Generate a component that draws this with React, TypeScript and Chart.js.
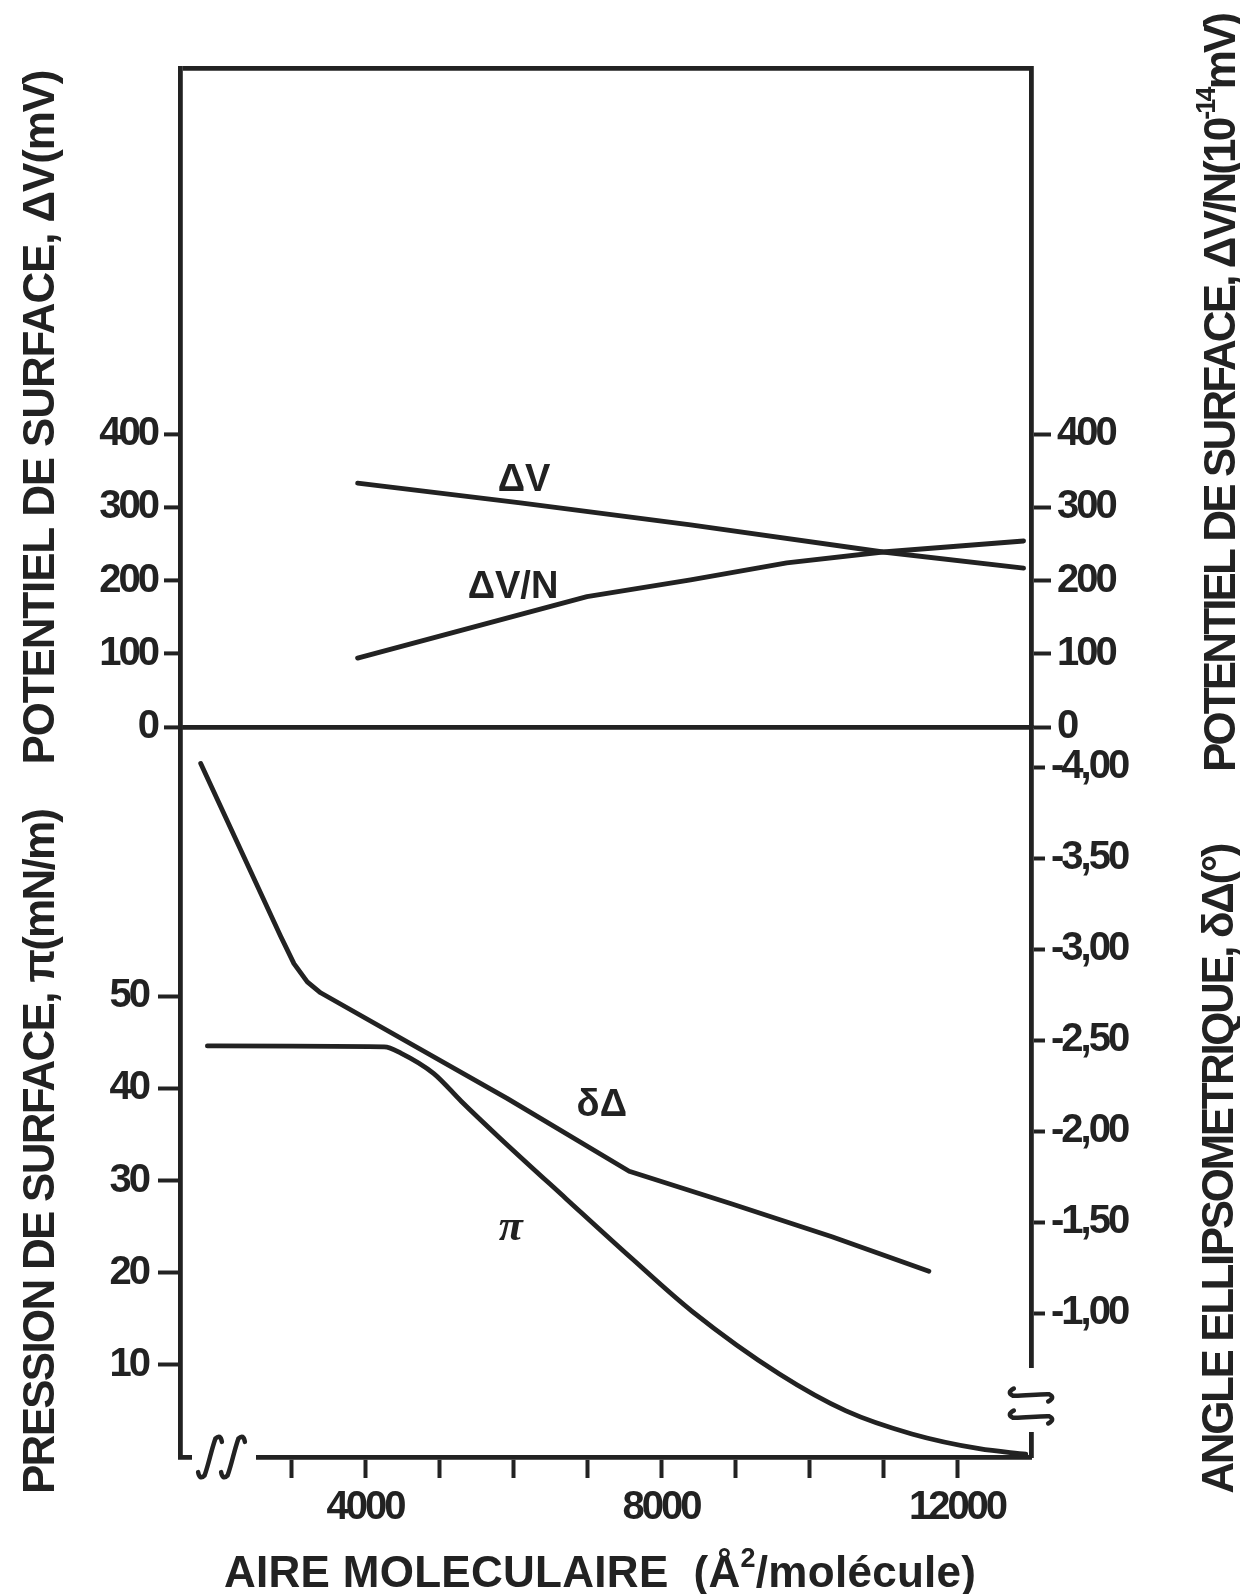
import { useEffect, useRef } from 'react';
import { Chart, registerables } from 'chart.js';

Chart.register(...registerables);

// ---- data ----
const areaDV = [3900, 6100, 8400, 11000, 12900];
const dV = [333, 306, 276, 239, 217];

const areaDVN = [3900, 7000, 8400, 9700, 11000, 12900];
const dVN = [94, 178, 201, 224, 239, 254];

const areaDelta = [1780, 2860, 3040, 3220, 3400, 5920, 7570, 8960, 10310, 11620];
const deltaDeg = [-4.02, -3.07, -2.92, -2.82, -2.76, -2.18, -1.78, -1.6, -1.42, -1.23];

const areaPi = [1870, 4260, 4490, 4930, 5300, 5810, 6720, 7610, 8420, 9600, 10500, 11390, 12300, 12930];
const piVals = [44.6, 44.5, 43.8, 41.6, 38.6, 34.7, 28.0, 21.5, 15.8, 9.0, 5.0, 2.5, 0.9, 0.3];

const xTicks = [3000, 4000, 5000, 6000, 7000, 8000, 9000, 10000, 11000, 12000];
const xLabelTicks = [4000, 8000, 12000];
const dvTicks = [0, 100, 200, 300, 400];
const piTicks = [10, 20, 30, 40, 50];
const deltaTicks = [-4, -3.5, -3, -2.5, -2, -1.5, -1];

const curveLabels = [
  { text: 'ΔV', x: 6150, y: 337, axis: 'yTop', italic: false },
  { text: 'ΔV/N', x: 6000, y: 190, axis: 'yTop', italic: false },
  { text: 'δΔ', x: 7200, y: -2.14, axis: 'yBotR', italic: false },
  { text: 'π', x: 5970, y: 24.8, axis: 'yBot', italic: true },
];

const titleLeftTop = [{ t: 'POTENTIEL DE SURFACE, ΔV(mV)' }];
const titleLeftBottom = [{ t: 'PRESSION DE SURFACE, π(mN/m)' }];
const titleRightTop = [{ t: 'POTENTIEL DE SURFACE, ΔV/N(10' }, { t: '-14', sup: true }, { t: 'mV)' }];
const titleRightBottom = [{ t: 'ANGLE ELLIPSOMETRIQUE, δΔ(°)' }];
const titleX = [{ t: 'AIRE MOLECULAIRE  (Å' }, { t: '2', sup: true }, { t: '/molécule)' }];

const FONT = "'Liberation Sans', Arial, sans-serif";
const INK = '#222222';
const CLEAR = 'rgba(0,0,0,0)';

type Run = { t: string; sup?: boolean };

function drawRuns(
  ctx: CanvasRenderingContext2D,
  runs: Run[],
  cx: number,
  cy: number,
  angle: number,
  size: number,
  length: number
) {
  const supSize = Math.round(size * 0.62);
  let natural = 0;
  let count = 0;
  for (const r of runs) {
    ctx.font = `bold ${r.sup ? supSize : size}px ${FONT}`;
    (ctx as any).letterSpacing = '0px';
    natural += ctx.measureText(r.t).width;
    count += [...r.t].length;
  }
  const sp = (length - natural) / Math.max(1, count - 1);
  ctx.save();
  ctx.translate(cx, cy);
  ctx.rotate(angle);
  ctx.fillStyle = INK;
  ctx.textAlign = 'left';
  ctx.textBaseline = 'alphabetic';
  let x = -length / 2;
  const base = size * 0.716 * 0.5;
  for (const r of runs) {
    ctx.font = `bold ${r.sup ? supSize : size}px ${FONT}`;
    (ctx as any).letterSpacing = '0px';
    const w = ctx.measureText(r.t).width;
    (ctx as any).letterSpacing = `${sp}px`;
    ctx.fillText(r.t, x, r.sup ? base - size * 0.45 : base);
    x += w + sp * [...r.t].length;
  }
  ctx.restore();
}

// one integral-like break stroke centred at (0,0), vertical, height h
function integralStroke(ctx: CanvasRenderingContext2D, h: number) {
  const a = h / 2;
  ctx.beginPath();
  ctx.moveTo(-9, a - 6);
  ctx.quadraticCurveTo(-6, a + 2, -2, a - 4);
  ctx.bezierCurveTo(0, a * 0.3, 0, -a * 0.3, 2, -a + 4);
  ctx.quadraticCurveTo(6, -a - 2, 9, -a + 6);
  ctx.stroke();
}

const decorPlugin = {
  id: 'decor',
  beforeDraw(chart: any) {
    chart.ctx.letterSpacing = '-3px';
  },
  afterDraw(chart: any) {
    const ctx: CanvasRenderingContext2D = chart.ctx;
    const ca = chart.chartArea;
    ctx.save();
    (ctx as any).letterSpacing = '0px';

    // axis breaks
    ctx.fillStyle = '#ffffff';
    ctx.fillRect(ca.right - 12, ca.bottom - 89, 26, 64);
    ctx.fillRect(ca.left + 12, ca.bottom - 8, 64, 16);
    ctx.strokeStyle = INK;
    ctx.lineWidth = 4.5;
    ctx.lineCap = 'round';
    for (const dx of [30, 53]) {
      ctx.save();
      ctx.translate(ca.left + dx, ca.bottom);
      ctx.rotate(0.18);
      integralStroke(ctx, 46);
      ctx.restore();
    }
    for (const dy of [-62, -40]) {
      ctx.save();
      ctx.translate(ca.right, ca.bottom + dy);
      ctx.rotate(Math.PI / 2 - 0.15);
      integralStroke(ctx, 44);
      ctx.restore();
    }

    // curve labels
    ctx.fillStyle = INK;
    ctx.textAlign = 'center';
    ctx.textBaseline = 'middle';
    const sx = chart.scales.x;
    for (const l of curveLabels) {
      const px = sx.getPixelForValue(l.x);
      const py = chart.scales[l.axis].getPixelForValue(l.y);
      ctx.font = l.italic ? `italic bold 44px 'Liberation Serif', serif` : `bold 38px ${FONT}`;
      ctx.fillText(l.text, px, py);
    }
    ctx.restore();

    // titles
    drawRuns(ctx, titleLeftTop, 38, 417, -Math.PI / 2, 44, 695);
    drawRuns(ctx, titleLeftBottom, 38, 1151, -Math.PI / 2, 44, 686);
    drawRuns(ctx, titleRightTop, 1219, 392, -Math.PI / 2, 44, 760);
    drawRuns(ctx, titleRightBottom, 1217, 1168, -Math.PI / 2, 44, 651);
    drawRuns(ctx, titleX, 600, 1571, 0, 44, 752);
  },
};

const tickFont = { family: FONT, size: 40, weight: 'bold' as const };

export default function App() {
  const ref = useRef<HTMLCanvasElement>(null);

  useEffect(() => {
    const canvas = ref.current;
    if (!canvas) return;
    const line = (data: { x: number; y: number }[], yAxisID: string, extra: any = {}) => ({
      data,
      yAxisID,
      xAxisID: 'x',
      borderColor: INK,
      backgroundColor: INK,
      borderWidth: 4.8,
      pointRadius: 0,
      fill: false,
      tension: 0,
      borderCapStyle: 'round',
      borderJoinStyle: 'round',
      ...extra,
    });
    const chart = new Chart(canvas, {
      type: 'line',
      data: {
        datasets: [
          { label: 'ΔV', ...line(areaDV.map((x, i) => ({ x, y: dV[i] })), 'yTop') },
          { label: 'ΔV/N', ...line(areaDVN.map((x, i) => ({ x, y: dVN[i] })), 'yTopR') },
          { label: 'δΔ', ...line(areaDelta.map((x, i) => ({ x, y: deltaDeg[i] })), 'yBotR') },
          {
            label: 'π',
            ...line(areaPi.map((x, i) => ({ x, y: piVals[i] })), 'yBot', { cubicInterpolationMode: 'monotone' }),
          },
        ] as any,
      },
      options: {
        responsive: false,
        animation: false,
        layout: { padding: { top: 68, left: 0, right: 0, bottom: 0 } },
        plugins: { legend: { display: false }, tooltip: { enabled: false }, title: { display: false } },
        scales: {
          x: {
            type: 'linear',
            position: 'bottom',
            min: 1500,
            max: 13000,
            afterBuildTicks: (s: any) => {
              s.ticks = xTicks.map((v) => ({ value: v }));
            },
            afterFit: (s: any) => {
              s.height = 137;
            },
            grid: { drawOnChartArea: false, drawTicks: true, tickLength: 21, tickWidth: 4, tickColor: INK },
            border: { display: true, color: INK, width: 4.8 },
            ticks: {
              autoSkip: false,
              maxRotation: 0,
              padding: 6,
              color: INK,
              font: tickFont,
              callback: (v: any) => (xLabelTicks.includes(Number(v)) ? String(v) : ''),
            },
          },
          yBot: {
            type: 'linear',
            position: 'left',
            stack: 'left',
            stackWeight: 730,
            min: 0,
            max: 79.2,
            afterBuildTicks: (s: any) => {
              s.ticks = piTicks.map((v) => ({ value: v }));
            },
            afterFit: (s: any) => {
              s.width = 180;
            },
            grid: { drawOnChartArea: false, drawTicks: true, tickLength: 22, tickWidth: 4, tickColor: INK },
            border: { display: true, color: INK, width: 4.8 },
            ticks: { autoSkip: false, padding: 10, color: INK, font: tickFont, callback: (v: any) => String(v) },
          },
          yTop: {
            type: 'linear',
            position: 'left',
            stack: 'left',
            stackWeight: 659,
            min: 0,
            max: 900,
            afterBuildTicks: (s: any) => {
              s.ticks = [...dvTicks, 900].map((v) => ({ value: v }));
            },
            afterFit: (s: any) => {
              s.width = 180;
            },
            grid: {
              drawOnChartArea: true,
              drawTicks: true,
              tickLength: 16,
              tickWidth: 4,
              lineWidth: 4.8,
              color: (c: any) => (c.tick && (c.tick.value === 0 || c.tick.value === 900) ? INK : CLEAR),
              tickColor: (c: any) => (c.tick && c.tick.value === 900 ? CLEAR : INK),
            },
            border: { display: true, color: INK, width: 4.8 },
            ticks: {
              autoSkip: false,
              padding: 7,
              color: INK,
              font: tickFont,
              callback: (v: any) => (Number(v) === 900 ? '' : String(v)),
            },
          },
          yTopR: {
            type: 'linear',
            position: 'right',
            stack: 'right',
            stackWeight: 659,
            min: 0,
            max: 900,
            afterBuildTicks: (s: any) => {
              s.ticks = dvTicks.map((v) => ({ value: v }));
            },
            afterFit: (s: any) => {
              s.width = 209;
            },
            grid: { drawOnChartArea: false, drawTicks: true, tickLength: 20, tickWidth: 4, tickColor: INK },
            border: { display: true, color: INK, width: 4.8 },
            ticks: { autoSkip: false, padding: 6, color: INK, font: tickFont, callback: (v: any) => String(v) },
          },
          yBotR: {
            type: 'linear',
            position: 'right',
            stack: 'right',
            stackWeight: 730,
            min: -4.22,
            max: -0.21,
            reverse: true,
            afterBuildTicks: (s: any) => {
              s.ticks = deltaTicks.map((v) => ({ value: v }));
            },
            afterFit: (s: any) => {
              s.width = 209;
            },
            grid: { drawOnChartArea: false, drawTicks: true, tickLength: 14, tickWidth: 4, tickColor: INK },
            border: { display: true, color: INK, width: 4.8 },
            ticks: {
              autoSkip: false,
              padding: 6,
              color: INK,
              font: tickFont,
              callback: (v: any) => Number(v).toFixed(2).replace('.', ','),
            },
          },
        } as any,
      },
      plugins: [decorPlugin as any],
    });
    return () => chart.destroy();
  }, []);

  return (
    <div
      style={{
        position: 'absolute',
        left: 0,
        top: 0,
        width: 1240,
        height: 1594,
        overflow: 'hidden',
        background: '#ffffff',
      }}
    >
      <canvas ref={ref} width={1240} height={1594} style={{ display: 'block', width: 1240, height: 1594 }} />
    </div>
  );
}
